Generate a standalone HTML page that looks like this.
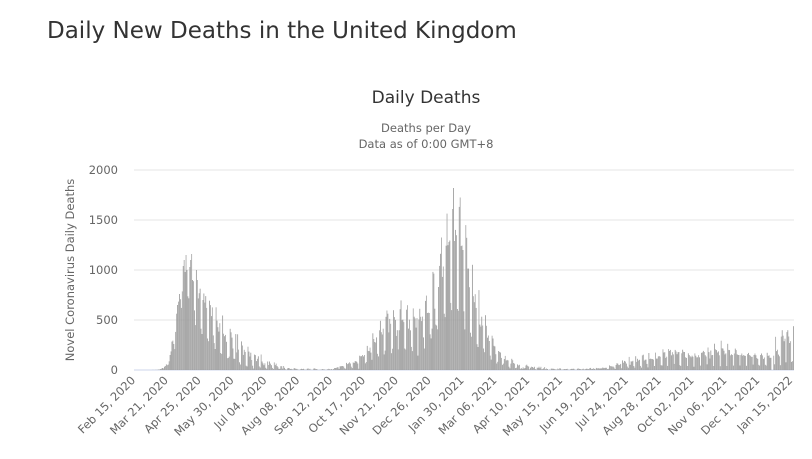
<!DOCTYPE html>
<html><head><meta charset="utf-8"><style>
body{margin:0;background:#fff;font-family:"DejaVu Sans",sans-serif}
svg text{font-family:"DejaVu Sans","Liberation Sans",sans-serif}
</style></head><body>
<svg id="c" width="812" height="455">
<text x="47" y="38" font-size="23" fill="#333">Daily New Deaths in the United Kingdom</text>
<text x="426" y="103" font-size="17" fill="#333" text-anchor="middle">Daily Deaths</text>
<text x="426" y="132" font-size="11.5" fill="#666" text-anchor="middle">Deaths per Day</text>
<text x="426" y="148" font-size="11.5" fill="#666" text-anchor="middle">Data as of 0:00 GMT+8</text>
<text transform="translate(74,270) rotate(-90)" font-size="11.5" fill="#666" text-anchor="middle">Novel Coronavirus Daily Deaths</text>
<g id="grid"></g><g id="bars"></g><g id="xl"></g>
</svg>
<script>
const yTicks=[0,500,1000,1500,2000];
const xTickLabels=["Feb 15, 2020","Mar 21, 2020","Apr 25, 2020","May 30, 2020","Jul 04, 2020","Aug 08, 2020","Sep 12, 2020","Oct 17, 2020","Nov 21, 2020","Dec 26, 2020","Jan 30, 2021","Mar 06, 2021","Apr 10, 2021","May 15, 2021","Jun 19, 2021","Jul 24, 2021","Aug 28, 2021","Oct 02, 2021","Nov 06, 2021","Dec 11, 2021","Jan 15, 2022"];
const deaths=[
0,0,0,0,0,0,0, 0,0,0,0,0,0,0, 0,0,0,0,0,1,1, 0,1,2,1,3,5,6,
10,14,20,16,33,40,56, 48,54,87,150,186,284,294, 260,209,381,563,650,684,760,
708,621,786,1040,1100,980,1150, 1000,737,717,1030,1100,1160,900, 888,596,449,1000,900,716,768,
813,413,360,700,765,674,739, 621,315,288,693,649,539,626, 346,269,210,627,494,428,384,
468,170,160,545,363,338,351, 282,118,121,134,412,377,324, 215,113,111,359,176,357,204,
77,55,286,245,151,202,181, 43,36,233,184,135,173,100, 43,15,154,149,89,112,137,
36,25,155,85,66,48,67, 22,11,85,50,85,64,48, 21,11,76,49,64,40,27,
11,12,38,38,14,40,22, 8,3,16,20,18,10,12, 8,1,16,20,9,12,6, 3,2,8,12,10,12,5,
3,1,12,17,6,12,2, 2,1,14,16,12,9,6, 1,2,3,2,10,6,7, 2,2,3,8,12,8,6,
9,5,9,20,20,21,27, 27,11,37,37,40,40,34, 17,13,71,59,66,77,65, 33,19,76,70,87,89,81,
65,13,143,137,138,150,136, 150,67,80,241,191,189,224, 174,102,367,310,280,274,326,
162,136,397,492,378,355,413, 156,194,532,595,563,376,511, 462,168,213,598,529,501,341,
398,206,398,608,696,498,504, 479,215,205,603,648,414,504, 397,231,189,616,533,516,424,
519,144,506,612,532,489,534, 326,215,691,744,570,574,570, 357,316,414,981,964,613,454,
445,407,830,1041,1162,1325,931, 1035,563,529,1243,1564,1248,1280, 1295,671,599,1610,1820,1290,1401,
1348,610,592,1631,1725,1239,1245, 1200,587,406,1449,1322,1014,1014, 828,373,333,1052,738,678,758,
621,258,230,799,454,434,533, 445,215,178,548,442,323,345, 290,144,104,343,315,242,236,
158,65,82,190,181,175,121, 52,64,110,141,95,101,96, 33,17,64,112,98,70,63,
19,23,56,45,52,10,20, 10,26,13,20,45,53,40, 34,7,23,33,30,22,32, 10,4,23,22,33,18,32,
7,11,17,29,8,15,10, 1,4,2,14,13,13,11, 7,5,4,14,7,17,15, 4,4,7,9,9,10,12,
5,0,5,10,12,11,13, 6,1,3,13,15,11,10, 5,8,13,4,7,11,14, 9,9,18,21,10,11,17,
11,6,21,16,19,14,17, 14,18,26,19,21,22,22, 9,12,46,39,37,35,34, 24,10,50,68,63,49,51,
61,18,96,73,91,84,64, 35,22,131,52,86,85,92, 39,23,138,81,112,95,102, 41,24,146,153,94,103,104,
61,26,170,110,114,110,109, 104,40,174,114,114,136,140, 133,48,45,207,175,178,121,
133,41,209,191,201,147,178, 156,61,201,185,158,178,180, 49,40,167,203,182,180,127,
121,40,167,150,137,127,143, 132,33,166,143,126,127,148, 127,44,172,176,191,180,148,
135,57,225,179,115,195,148, 150,40,263,207,199,175,186, 147,38,293,217,214,193,156,
166,40,262,201,199,147,157, 150,44,165,214,199,157,150, 150,45,149,165,143,150,143,
141,42,159,171,150,143,132, 132,54,150,165,148,120,111, 52,44,150,165,146,111,125,
52,44,172,140,147,122,122, 0,0,143,57,332,189,203, 154,137,48,334,398,343,288,
313,77,379,398,335,270,288, 81,88,438];
const NS='http://www.w3.org/2000/svg';
const X0=134,X1=794,Y0=370,YT=170,YMAX=2000;
const n=deaths.length, step=(X1-X0)/n;
const xs=i=>X0+i*step;
const ys=v=>Y0-(v/YMAX)*(Y0-YT);
function mk(t,a,p){const e=document.createElementNS(NS,t);for(const k in a)e.setAttribute(k,a[k]);p.appendChild(e);return e;}
const grid=document.getElementById('grid');
yTicks.forEach(v=>{
 const l=mk('line',{x1:X0,x2:X1,y1:ys(v),y2:ys(v),stroke:v===0?'#ccd6eb':'#e6e6e6','stroke-width':1},grid);
 
 
 const t=mk('text',{x:118,y:ys(v)+4,'font-size':11.5,fill:'#666','text-anchor':'end'},grid);
 t.textContent=v;
 
 
});
const bars=document.getElementById('bars');
deaths.forEach((v,i)=>{
 const r=mk('rect',{x:xs(i),y:ys(v),width:step*0.85,height:Y0-ys(v),fill:i%2?'#a3a3a3':'#959595'},bars);
 
 
});
const xl=document.getElementById('xl');
xTickLabels.forEach((s,k)=>{
 const x=xs(k*35)+2;
 const t=mk('text',{transform:`translate(${x},381) rotate(-45)`,'font-size':11.5,fill:'#666','text-anchor':'end'},xl);
 t.textContent=s;
 
 
});
</script>
</body></html>
